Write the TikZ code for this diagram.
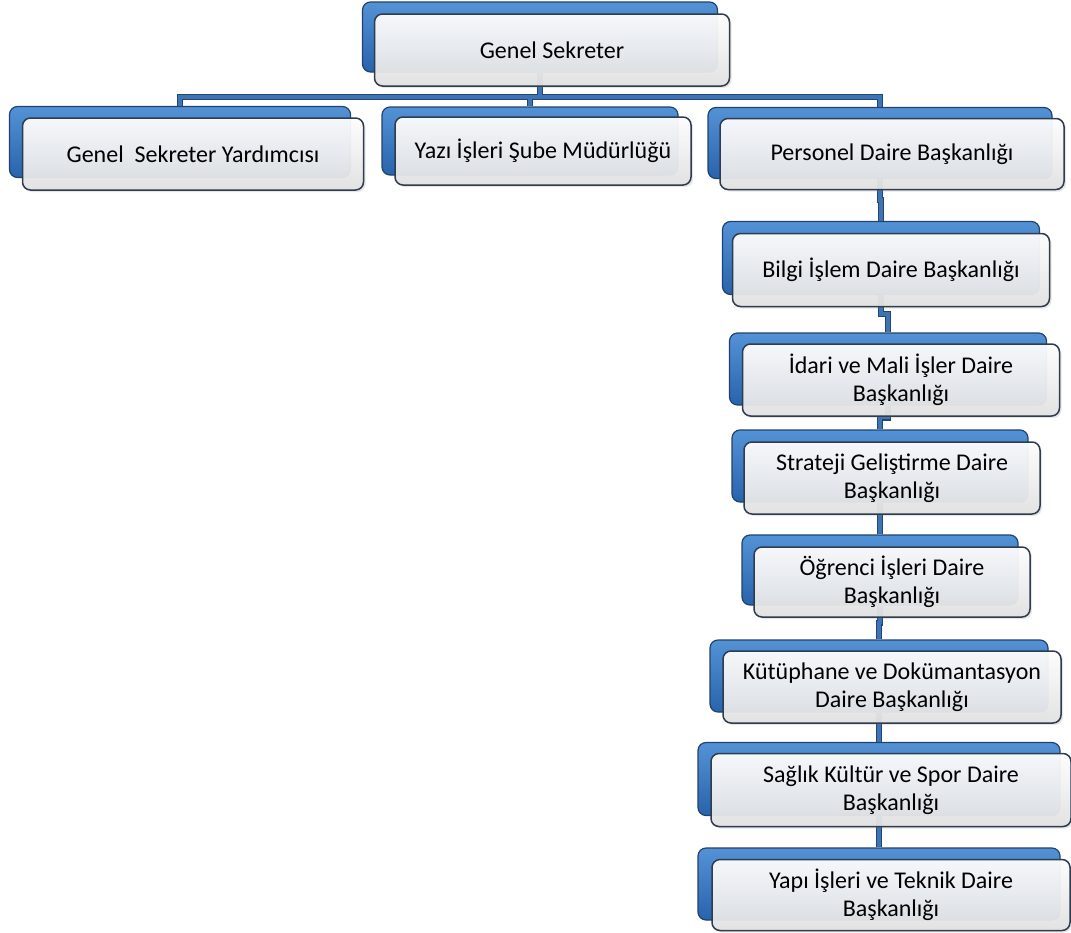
\documentclass[tikz,border=0pt]{standalone}
\usepackage{fontspec}
\setmainfont{Carlito}
\usepackage{tikz}
\usetikzlibrary{calc, positioning, shadows}

\definecolor{backtop}{RGB}{84,146,214}
\definecolor{backbot}{RGB}{40,99,172}
\definecolor{backline}{RGB}{32,66,108}
\definecolor{frontline}{RGB}{46,60,78}
\definecolor{linkcore}{RGB}{62,116,180}
\definecolor{linkedge}{RGB}{36,70,116}

\begin{document}
\begin{tikzpicture}[x=1pt, y=-1pt]
    \tikzset{
        back/.style={
            draw=backline, line width=1.2pt, rounded corners=8pt,
            top color=backtop, bottom color=backbot, inner sep=0pt
        },
        front/.style={
            draw=frontline, line width=1.5pt, rounded corners=8pt,
            top color=white, bottom color=black!11, fill opacity=0.94,
            text opacity=1, inner sep=0pt, align=center,
            font=\fontsize{24}{28}\selectfont,
            drop shadow={opacity=0.2, shadow xshift=2pt, shadow yshift=-2pt}
        },
        link/.style={
            line width=3.5pt, draw=linkcore, line join=miter,
            preaction={draw=linkedge, line width=6pt}
        }
    }

    \useasboundingbox (0,0) rectangle (1071,932);

    % back plates
    \node[back, minimum width=355pt, minimum height=70pt] (gs) at (540,37) {};
    \node[back, minimum width=341pt, minimum height=71pt] (gsy) at (180,142) {};
    \node[back, minimum width=296pt, minimum height=68pt] (yis) at (530,141) {};
    \node[back, minimum width=344pt, minimum height=71pt] (pdb) at (880,143) {};
    \node[back, minimum width=317pt, minimum height=73pt] (bim) at (881,258) {};
    \node[back, minimum width=317pt, minimum height=72pt] (idm) at (888,369) {};
    \node[back, minimum width=296pt, minimum height=72pt] (sgd) at (880,466) {};
    \node[back, minimum width=276pt, minimum height=70pt] (oid) at (880,570) {};
    \node[back, minimum width=338pt, minimum height=72pt] (kdb) at (879,676) {};
    \node[back, minimum width=362pt, minimum height=73pt] (skd) at (879,779) {};
    \node[back, minimum width=362pt, minimum height=72pt] (yit) at (879,884) {};

    % connectors
    \coordinate (bar) at (540,97);
    \draw[link] (gs.south) -- (bar) (gsy.north) |- (bar) -| (pdb.north)
        (bar) -| (yis.north);
    \draw[link] (pdb.south) |- ($(pdb.south)!.5!(bim.north)$) -| (bim.north);
    \draw[link] (bim.south) |- ($(bim.south)!.5!(idm.north)$) -| (idm.north);
    \draw[link] (idm.south) |- ($(idm.south)!.5!(sgd.north)$) -| (sgd.north);
    \draw[link] (sgd.south) |- ($(sgd.south)!.5!(oid.north)$) -| (oid.north);
    \draw[link] (oid.south) |- ($(oid.south)!.5!(kdb.north)$) -| (kdb.north);
    \draw[link] (kdb.south) |- ($(kdb.south)!.5!(skd.north)$) -| (skd.north);
    \draw[link] (skd.south) |- ($(skd.south)!.5!(yit.north)$) -| (yit.north);

    % front cards
    \node[front, minimum width=355pt, minimum height=72pt] (gs-f) at ([shift={(12,13)}]gs.center) {Genel Sekreter};
    \node[front, minimum width=341pt, minimum height=72pt] (gsy-f) at ([shift={(13,12)}]gsy.center) {Genel~ Sekreter Yardımcısı};
    \node[front, minimum width=296pt, minimum height=68pt] (yis-f) at ([shift={(13,10)}]yis.center) {Yazı İşleri Şube Müdürlüğü};
    \node[front, minimum width=344pt, minimum height=71pt] (pdb-f) at ([shift={(12,11)}]pdb.center) {Personel Daire Başkanlığı};
    \node[front, minimum width=317pt, minimum height=73pt] (bim-f) at ([shift={(10,12)}]bim.center) {Bilgi İşlem Daire Başkanlığı};
    \node[front, minimum width=317pt, minimum height=72pt] (idm-f) at ([shift={(13,11)}]idm.center) {İdari ve Mali İşler Daire\\Başkanlığı};
    \node[front, minimum width=296pt, minimum height=72pt] (sgd-f) at ([shift={(12,12)}]sgd.center) {Strateji Geliştirme Daire\\Başkanlığı};
    \node[front, minimum width=276pt, minimum height=70pt] (oid-f) at ([shift={(12,12)}]oid.center) {Öğrenci İşleri Daire\\Başkanlığı};
    \node[front, minimum width=338pt, minimum height=72pt] (kdb-f) at ([shift={(13,11)}]kdb.center) {Kütüphane ve Dokümantasyon\\Daire Başkanlığı};
    \node[front, minimum width=360pt, minimum height=73pt] (skd-f) at ([shift={(12,11)}]skd.center) {Sağlık Kültür ve Spor Daire\\Başkanlığı};
    \node[front, minimum width=358pt, minimum height=71pt] (yit-f) at ([shift={(12,11)}]yit.center) {Yapı İşleri ve Teknik Daire\\Başkanlığı};

\end{tikzpicture}
\end{document}
